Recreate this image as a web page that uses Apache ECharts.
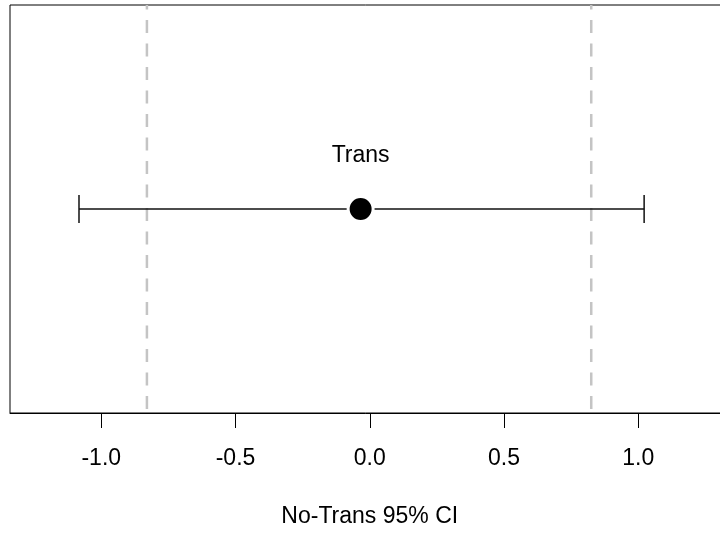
<!DOCTYPE html>
<html>
<head>
<meta charset="utf-8">
<script src="https://cdn.jsdelivr.net/npm/echarts@6/dist/echarts.min.js"></script>
<style>
html,body{margin:0;padding:0;background:#fff;}
#chart{width:720px;height:533px;}
</style>
</head>
<body>
<div id="chart"></div>
<script>
const categories = ['Trans'];
const estimates = [-0.034];
const lowerCI = [-1.083];
const upperCI = [1.022];
const refLines = [-0.83, 0.825];
const tickValues = [-1.0, -0.5, 0.0, 0.5, 1.0];
const axisTitle = 'No-Trans 95% CI';

const rowY = categories.map(() => 0.5);
const font = 'Liberation Sans, Arial, sans-serif';

const chart = echarts.init(document.getElementById('chart'), null, {renderer: 'canvas'});
chart.setOption({
  animation: false,
  backgroundColor: '#fff',
  grid: {left: 10, top: 5, width: 719.5, height: 408, outerBoundsMode: 'none', containLabel: false,
    show: true, borderColor: '#000', borderWidth: 1, backgroundColor: 'transparent'},
  xAxis: {
    type: 'value', min: -1.34, max: 1.34,
    axisLine: {show: true, lineStyle: {color: '#000', width: 1}},
    axisTick: {show: true, customValues: tickValues, length: 15, lineStyle: {color: '#000', width: 1}},
    axisLabel: {show: true, customValues: tickValues, formatter: v => v.toFixed(1), margin: 34, fontSize: 23, color: '#000', fontFamily: font},
    splitLine: {show: false},
    name: axisTitle, nameLocation: 'middle', nameGap: 92,
    nameTextStyle: {fontSize: 23, color: '#000', fontFamily: font}
  },
  yAxis: {type: 'value', min: 0, max: 1, show: false},
  series: [
    {
      type: 'custom', z: 1, silent: true,
      data: refLines.map(v => [v]),
      renderItem: (params, api) => {
        const top = api.coord([api.value(0), 1]);
        const bot = api.coord([api.value(0), 0]);
        return {type: 'line', shape: {x1: top[0], y1: top[1], x2: bot[0], y2: bot[1]},
          style: {stroke: '#c4c4c4', lineWidth: 2.5, lineDash: [13, 10.5], lineDashOffset: 8.5}};
      }
    },
    {
      type: 'custom', z: 2, silent: true,
      data: categories.map((c, i) => [lowerCI[i], upperCI[i], rowY[i]]),
      renderItem: (params, api) => {
        const a = api.coord([api.value(0), api.value(2)]);
        const b = api.coord([api.value(1), api.value(2)]);
        const cap = 14;
        const st = {stroke: '#111', lineWidth: 1.5};
        return {type: 'group', children: [
          {type: 'line', shape: {x1: a[0], y1: a[1], x2: b[0], y2: b[1]}, style: st},
          {type: 'line', shape: {x1: a[0], y1: a[1] - cap, x2: a[0], y2: a[1] + cap}, style: st},
          {type: 'line', shape: {x1: b[0], y1: b[1] - cap, x2: b[0], y2: b[1] + cap}, style: st}
        ]};
      }
    },
    {
      type: 'scatter', z: 3, silent: true,
      data: categories.map((c, i) => ({value: [estimates[i], rowY[i]], name: c})),
      symbol: 'circle', symbolSize: 25,
      itemStyle: {color: '#000', borderColor: '#fff', borderWidth: 3, opacity: 1},
      label: {show: true, position: 'inside', offset: [0, -53], formatter: p => p.name, fontSize: 23, color: '#000', fontFamily: font}
    }
  ]
});
</script>
</body>
</html>
